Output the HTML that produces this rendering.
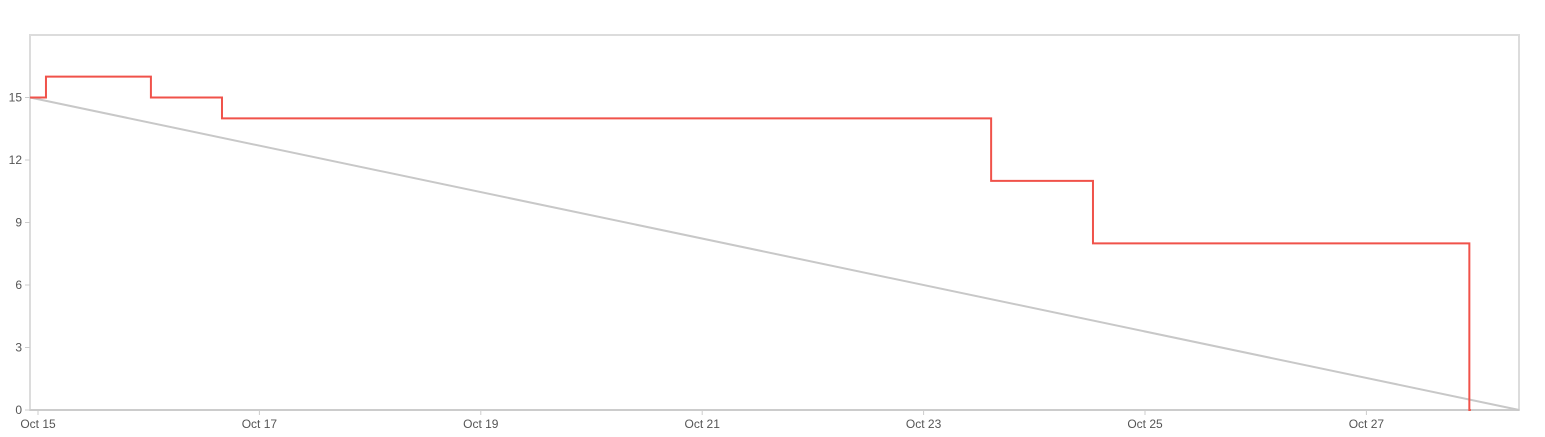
<!DOCTYPE html>
<html><head><meta charset="utf-8"><style>
html,body{margin:0;padding:0;background:#fff;width:1545px;height:437px;overflow:hidden}
svg{display:block;font-family:"Liberation Sans",sans-serif}
</style></head><body>
<svg id="chart" width="1545" height="437" viewBox="0 0 1545 437">
<rect x="30" y="35" width="1489" height="375" fill="none" stroke="#dcdcdc" stroke-width="2"/>
<g id="yaxis"></g>
<g id="xaxis"></g>
<g id="series"></g>
</svg>
<script>
const yTicks = [0, 3, 6, 9, 12, 15];
const xTickLabels = ["Oct 15","Oct 17","Oct 19","Oct 21","Oct 23","Oct 25","Oct 27"];
const xTickDays = [0, 2, 4, 6, 8, 10, 12];
// days since Oct 15 00:00 (approx) and remaining values
const stepDays = [-0.072, 0.072, 1.02, 1.662, 8.61, 9.53, 12.93];
const stepValues = [15, 16, 15, 14, 11, 8, 0];
const idealDays = [-0.072, 13.38];
const idealValues = [15, 0];

const X0 = 38, PX_PER_DAY = 110.7, Y0 = 410, PX_PER_UNIT = 375 / 18;
const xs = d => X0 + d * PX_PER_DAY;
const ys = v => Y0 - v * PX_PER_UNIT;
const NS = "http://www.w3.org/2000/svg";
function mk(tag, attrs, parent){const e=document.createElementNS(NS,tag);for(const k in attrs)e.setAttribute(k,attrs[k]);parent.appendChild(e);return e;}

const ya = document.getElementById('yaxis');
yTicks.forEach(v=>{
  const t = mk('line',{x1:25,x2:30,y1:ys(v),y2:ys(v),stroke:'#ccc'},ya);
  
  
  const l = mk('text',{x:22,y:ys(v)+4,'text-anchor':'end','font-size':12,fill:'#555'},ya);
  l.textContent = v;
  
  
});
const xa = document.getElementById('xaxis');
const base = mk('line',{x1:30,x2:1519,y1:410,y2:410,stroke:'#ccc','stroke-width':2},xa);


xTickDays.forEach((d,i)=>{
  const t = mk('line',{x1:xs(d),x2:xs(d),y1:410,y2:415,stroke:'#ccc'},xa);
  
  
  const l = mk('text',{x:xs(d),y:428,'text-anchor':'middle','font-size':12,fill:'#555'},xa);
  l.textContent = xTickLabels[i];
  
  
});
const sg = document.getElementById('series');
const ideal = mk('line',{x1:xs(idealDays[0]),y1:ys(idealValues[0]),x2:xs(idealDays[1]),y2:ys(idealValues[1]),stroke:'#c8c8c8','stroke-width':2},sg);


let d = '';
for(let i=0;i<stepDays.length;i++){
  const x = xs(stepDays[i]);
  if(i===0) d += `M${x},${ys(stepValues[0])}`;
  else d += `H${x}V${ys(stepValues[i])}`;
}
d += `H${xs(stepDays[stepDays.length-1])+1.5}`;
const p = mk('path',{d:d,fill:'none',stroke:'#f0524a','stroke-width':2},sg);


</script>
</body></html>
